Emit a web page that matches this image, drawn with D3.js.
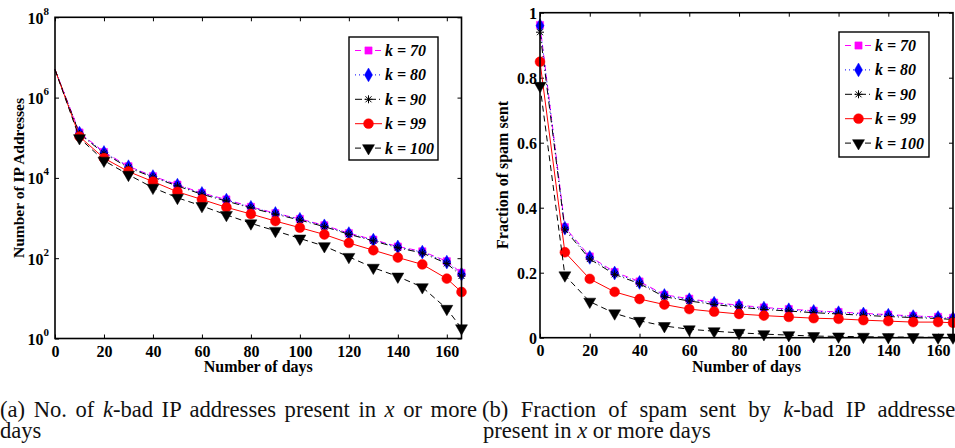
<!DOCTYPE html>
<html><head><meta charset="utf-8">
<script src="https://cdn.jsdelivr.net/npm/d3@7"></script>
<style>body{margin:0;background:#fff;overflow:hidden} svg{display:block}</style>
</head><body>
<svg id="c" width="955" height="448"></svg>
<script>
// ---------- data ----------
const days = [0,10,20,30,40,50,60,70,80,90,100,110,120,130,140,150,160,166];
const seriesNames = ["k = 70","k = 80","k = 90","k = 99","k = 100"];
const xTickValues = [0,20,40,60,80,100,120,140,160];
const logTickValues = [1,1e2,1e4,1e6,1e8];
const logTickExponents = ["0","2","4","6","8"];
const fracTickValues = [0,0.2,0.4,0.6,0.8,1];
const fracTickLabels = ["0","0.2","0.4","0.6","0.8","1"];

// (a) number of IP addresses
const ipK70  = [5e6,1.35e5,4.4e4,1.95e4,1.1e4,6.8e3,4.2e3,2.9e3,1.9e3,1.32e3,950,660,420,290,195,148,84,43];
const ipK80  = [5e6,1.3e5,4.3e4,1.9e4,1.08e4,6.6e3,4.1e3,2.8e3,1.85e3,1.3e3,930,640,410,282,190,142,80,40];
const ipK90  = [5e6,1.25e5,4.1e4,1.8e4,1.04e4,6.3e3,3.9e3,2.65e3,1.78e3,1.25e3,890,610,395,270,182,135,74,36];
const ipK99  = [5e6,1.07e5,3.1e4,1.44e4,8.1e3,4.5e3,2.9e3,1.85e3,1.26e3,840,575,390,240,158,104,70,31,14.4];
const ipK100 = [5e6,9.8e4,2.7e4,1.2e4,5.7e3,3.2e3,2e3,1.2e3,740,480,310,200,108,58,35,19,5.5,1.8];

// (b) fraction of spam sent
const spK70  = [0.962,0.34,0.25,0.202,0.173,0.132,0.12,0.108,0.1,0.093,0.088,0.083,0.079,0.075,0.071,0.067,0.064,0.061];
const spK80  = [0.96,0.337,0.247,0.199,0.17,0.13,0.117,0.106,0.098,0.091,0.086,0.081,0.077,0.073,0.069,0.065,0.062,0.059];
const spK90  = [0.94,0.332,0.242,0.195,0.166,0.126,0.113,0.102,0.094,0.087,0.082,0.077,0.073,0.069,0.065,0.062,0.059,0.056];
const spK99  = [0.849,0.263,0.181,0.141,0.119,0.102,0.088,0.08,0.073,0.068,0.064,0.06,0.058,0.054,0.051,0.048,0.048,0.046];
const spK100 = [0.775,0.192,0.111,0.075,0.052,0.036,0.026,0.02,0.015,0.011,0.008,0.005,0.004,0.003,0.002,0.002,0.001,0.001];

// ---------- styles ----------
const styles = [
  {color:"#ff00ff", dash:"6,4", marker:"square", fill:"#ff00ff"},
  {color:"#0000ff", dash:"1,3", marker:"diamond", fill:"#0000ff"},
  {color:"#000000", dash:"7,3,1,3", marker:"asterisk", fill:"none"},
  {color:"#ff0000", dash:null, marker:"circle", fill:"#ff0000"},
  {color:"#000000", dash:"6,4", marker:"triangle", fill:"#000000"}
];
const FONT = "Liberation Serif, Times New Roman, serif";
const svg = d3.select("#c");

function markerPath(type){
  if(type==="square") return d3.symbol().type(d3.symbolSquare).size(52)();
  if(type==="diamond") return d3.symbol().type(d3.symbolDiamond).size(55)();
  if(type==="circle") return d3.symbol().type(d3.symbolCircle).size(76)();
  if(type==="triangle") return d3.symbol().type(d3.symbolTriangle).size(62)();
  return "M-4,0H4M0,-4V4M-3,-3L3,3M-3,3L3,-3";
}
function drawMarker(g, st, x, y){
  const p = g.append("path").attr("d", markerPath(st.marker))
    .attr("transform", `translate(${x},${y})` + (st.marker==="triangle" ? " rotate(180)" : ""));
  if(st.marker==="asterisk") p.attr("fill","none").attr("stroke",st.color).attr("stroke-width",1);
  else p.attr("fill",st.fill).attr("stroke",st.color).attr("stroke-width",0.5);
}

function panel(cfg){
  const x = d3.scaleLinear().domain([0,166]).range([cfg.x0,cfg.x1]);
  const y = cfg.log ? d3.scaleLog().domain([1,1e8]).range([cfg.y1,cfg.y0])
                    : d3.scaleLinear().domain([0,1]).range([cfg.y1,cfg.y0]);
  const g = svg.append("g");

  // ticks
  const ax = g.append("g").attr("transform",`translate(0,${cfg.y1})`)
    .call(d3.axisBottom(x).tickValues(xTickValues).tickSize(-4).tickSizeOuter(0).tickPadding(7).tickFormat(d3.format("d")));
  g.append("g").attr("transform",`translate(0,${cfg.y0})`)
    .call(d3.axisTop(x).tickValues(xTickValues).tickSize(-4).tickSizeOuter(0).tickFormat(""));
  const ay = g.append("g").attr("transform",`translate(${cfg.x0},0)`)
    .call(d3.axisLeft(y).tickValues(cfg.log?logTickValues:fracTickValues).tickSize(-4).tickSizeOuter(0).tickPadding(3)
      .tickFormat((d,i)=> cfg.log ? "" : fracTickLabels[i]));
  g.append("g").attr("transform",`translate(${cfg.x1},0)`)
    .call(d3.axisRight(y).tickValues(cfg.log?logTickValues:fracTickValues).tickSize(-4).tickSizeOuter(0).tickFormat(""));
  g.selectAll(".domain").remove();
  g.selectAll(".tick line").attr("stroke","#000").attr("stroke-width",1);
  [ax,ay].forEach(a=>a.attr("font-family",FONT).attr("font-size",16).attr("font-weight","bold"));
  ax.selectAll("text").attr("fill","#000");
  ay.selectAll("text").attr("fill","#000");
  if(cfg.log){
    ay.selectAll(".tick text").each(function(d,i){
      const t = d3.select(this).attr("dy",null).attr("y",6).attr("x",-6);
      t.append("tspan").text("10");
      t.append("tspan").attr("dy",-9).attr("font-size",11).text(logTickExponents[i]);
    });
  } else {
    ay.selectAll(".tick text").attr("dy",null).attr("y",5.5).attr("x",-3);
  }

  // series
  const sg = g.append("g");
  cfg.series.forEach((vals,si)=>{
    const st = styles[si];
    const pts = days.map((d,i)=>({d, v: vals[i]}));
    sg.append("path").datum(pts)
      .attr("d", d3.line().x(p=>x(p.d)).y(p=>y(p.v)))
      .attr("fill","none").attr("stroke",st.color).attr("stroke-width",1)
      .attr("stroke-dasharray",st.dash);
    pts.forEach((p,i)=>{ if(i>=cfg.markerStart) drawMarker(sg, st, x(p.d), y(p.v)); });
  });

  // box
  g.append("rect").attr("x",cfg.x0).attr("y",cfg.y0).attr("width",cfg.x1-cfg.x0).attr("height",cfg.y1-cfg.y0)
    .attr("fill","none").attr("stroke","#000").attr("stroke-width",1.6);

  // titles
  g.append("text").attr("x",(cfg.x0+cfg.x1)/2).attr("y",372).attr("text-anchor","middle")
    .attr("font-family",FONT).attr("font-size",16).attr("font-weight","bold").text("Number of days");
  g.append("text").attr("transform",`translate(${cfg.ytX},${cfg.ytY}) rotate(-90)`).attr("text-anchor","middle")
    .attr("font-family",FONT).attr("font-size",cfg.ytSize).attr("font-weight","bold").text(cfg.yTitle);

  // legend
  const L = cfg.legend;
  g.append("rect").attr("x",L.x).attr("y",L.y).attr("width",L.w).attr("height",L.h)
    .attr("fill","#fff").attr("stroke","#000").attr("stroke-width",1.4);
  seriesNames.forEach((name,i)=>{
    const st = styles[i];
    const yy = L.y + 13.5 + i*24.4;
    g.append("line").attr("x1",L.x+6).attr("x2",L.x+33).attr("y1",yy).attr("y2",yy)
      .attr("stroke",st.color).attr("stroke-width",1).attr("stroke-dasharray",st.dash);
    drawMarker(g, st, L.x+19.5, yy);
    g.append("text").attr("x",L.x+36).attr("y",yy+5.5)
      .attr("font-family",FONT).attr("font-size",16).attr("font-weight","bold").attr("font-style","italic")
      .text(name);
  });
}

panel({x0:55,x1:461.5,y0:17.3,y1:338.5,log:true,
  series:[ipK70,ipK80,ipK90,ipK99,ipK100], markerStart:1,
  yTitle:"Number of IP Addresses", ytX:23.5, ytY:178, ytSize:15.5,
  legend:{x:349,y:37,w:89,h:123}});
panel({x0:540,x1:953,y0:12.7,y1:337.7,log:false,
  series:[spK70,spK80,spK90,spK99,spK100], markerStart:0,
  yTitle:"Fraction of spam sent", ytX:508, ytY:175, ytSize:16,
  legend:{x:839,y:32,w:90,h:125}});

// ---------- captions ----------
function caption(parts, x, y, target){
  const t = svg.append("text").attr("x",x).attr("y",y).attr("font-family",FONT).attr("font-size",22.6).attr("fill","#111");
  parts.forEach(p=>{ const s=t.append("tspan").text(p[0]); if(p[1]) s.attr("font-style","italic"); });
  if(target){
    const full = parts.map(p=>p[0]).join("");
    const spaces = (full.match(/ /g)||[]).length;
    const w = t.node().getComputedTextLength();
    const ws = (target-w)/spaces;
    if(ws>0) t.attr("word-spacing", ws);
  }
}
caption([["(a) No. of "],["k",1],["-bad IP addresses present in "],["x",1],[" or more"]], 0, 416.5, 477);
caption([["days"]], 0, 437.5, 0);
caption([["(b) Fraction of spam sent by "],["k",1],["-bad IP addresses"]], 482, 416.5, 482);
caption([["present in "],["x",1],[" or more days"]], 483, 437.5, 0);
</script>
</body></html>
